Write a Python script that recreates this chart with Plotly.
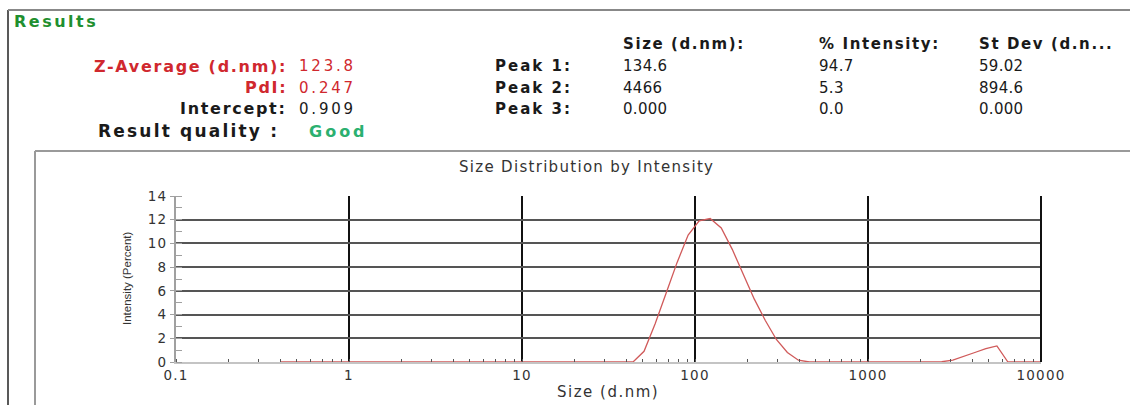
import plotly.graph_objects as go

# ---- data ----
size_nm = [0.4, 0.4632, 0.5365, 0.6213, 0.7195, 0.8332, 0.9649, 1.117, 1.294, 1.499,
           1.736, 2.010, 2.328, 2.696, 3.122, 3.615, 4.187, 4.849, 5.615, 6.503,
           7.531, 8.721, 10.10, 11.70, 13.54, 15.69, 18.17, 21.04, 24.36, 28.21,
           32.67, 37.84, 43.82, 50.75, 58.77, 68.06, 78.82, 91.28, 105.7, 122.4,
           141.8, 164.2, 190.1, 220.2, 255.0, 295.3, 342.0, 396.1, 458.7, 531.2,
           615.1, 712.4, 825.0, 955.4, 1106, 1281, 1484, 1718, 1990, 2305,
           2669, 3091, 3580, 4145, 4801, 5560, 6439, 7456, 8635, 10000]
intensity_pct = [0, 0, 0, 0, 0, 0, 0, 0, 0, 0,
                 0, 0, 0, 0, 0, 0, 0, 0, 0, 0,
                 0, 0, 0, 0, 0, 0, 0, 0, 0, 0,
                 0, 0, 0, 0.9, 3.2, 5.8, 8.4, 10.7, 11.9, 12.1,
                 11.3, 9.5, 7.4, 5.3, 3.5, 1.9, 0.8, 0.15, 0, 0,
                 0, 0, 0, 0, 0, 0, 0, 0, 0, 0,
                 0.02, 0.15, 0.45, 0.8, 1.12, 1.35, 0, 0, 0, 0]

x_tickvals = [0.1, 1, 10, 100, 1000, 10000]
x_ticktext = ["0.1", "1", "10", "100", "1000", "10000"]
y_tickvals = [0, 2, 4, 6, 8, 10, 12, 14]
y_ticktext = ["0", "2", "4", "6", "8", "10", "12", "14"]

summary_labels = ["Z-Average (d.nm):", "PdI:", "Intercept:"]
summary_values = ["123.8", "0.247", "0.909"]
summary_colors = ["#d0282e", "#d0282e", "#1a1a1a"]
quality_label = "Result quality :"
quality_value = "Good"

peak_labels = ["Peak 1:", "Peak 2:", "Peak 3:"]
col_headers = ["Size (d.nm):", "% Intensity:", "St Dev (d.n..."]
peak_size = ["134.6", "4466", "0.000"]
peak_intensity = ["94.7", "5.3", "0.0"]
peak_stdev = ["59.02", "894.6", "0.000"]

# ---- geometry helpers (pixel -> paper) ----
W, H = 1130, 405
L, R, T, B = 176, 1041, 196, 362


def px(x):
    return (x - L) / (R - L)


def py(y):
    return (B - y) / (B - T)


def sp(text, ls):
    return f'<span style="letter-spacing:{ls}px">{text}</span>'


FONT = "DejaVu Sans"
annotations = []


def ann(text, x, y, anchor="left", size=15, color="#1a1a1a", bold=False, ls=0,
        family=FONT, angle=0):
    annotations.append(dict(
        text=sp(text, ls) if ls else text, x=px(x), y=py(y), xref="paper", yref="paper",
        xanchor=anchor, yanchor="middle", showarrow=False, textangle=angle,
        font=dict(family=family, size=size, color=color,
                  weight="bold" if bold else "normal")))


ann("Results", 12, 21, size=16, color="#1f8f2f", bold=True, ls=2.5)
rows_y = [66, 88, 109]
for lab, val, col, yy in zip(summary_labels, summary_values, summary_colors, rows_y):
    ann(lab, 289, yy, anchor="right", size=16, color=col, bold=True, ls=1.7)
    ann(val, 297, yy, size=15, color=col, ls=2.8)
ann(quality_label, 281, 131, anchor="right", size=17, bold=True, ls=2.2)
ann(quality_value, 307, 131, size=16, color="#2bb070", bold=True, ls=3)

for hdr, xx in zip(col_headers, [621, 817, 977]):
    ann(hdr, xx, 44, size=15, bold=True, ls=1.6)
for lab, s, i, d, yy in zip(peak_labels, peak_size, peak_intensity, peak_stdev, rows_y):
    ann(lab, 574, yy, anchor="right", size=15, bold=True, ls=2)
    ann(s, 621, yy, size=15, ls=0.3)
    ann(i, 817, yy, size=15, ls=0.3)
    ann(d, 977, yy, size=15, ls=0.3)

ann("Size Distribution by Intensity", 586, 167, anchor="center", size=15,
    color="#333333", ls=1.3)
ann("Size (d.nm)", 608, 392, anchor="center", size=15, color="#333333", ls=1.5)
ann("Intensity (Percent)", 127, 279, anchor="center", size=11.5, color="#333333",
    family="Liberation Sans, sans-serif", angle=-90)

shapes = [
    dict(type="line", xref="paper", yref="paper", x0=px(8), x1=px(8), y0=py(10), y1=py(405),
         line=dict(color="#222222", width=1.5)),
    dict(type="line", xref="paper", yref="paper", x0=px(8), x1=px(1130), y0=py(10), y1=py(10),
         line=dict(color="#888888", width=2)),
    dict(type="line", xref="paper", yref="paper", x0=px(35), x1=px(35), y0=py(151), y1=py(405),
         line=dict(color="#9a9a9a", width=2)),
    dict(type="line", xref="paper", yref="paper", x0=px(35), x1=px(1130), y0=py(151), y1=py(151),
         line=dict(color="#9a9a9a", width=2)),
    dict(type="line", xref="paper", yref="paper", x0=1, x1=1, y0=0, y1=1,
         line=dict(color="#111111", width=2)),
]

fig = go.Figure()
fig.add_trace(go.Scatter(x=size_nm, y=intensity_pct, mode="lines",
                         line=dict(color="#d05a5a", width=1.3), showlegend=False))

fig.update_layout(
    width=W, height=H,
    margin=dict(l=L, r=W - R, t=T, b=H - B),
    paper_bgcolor="white", plot_bgcolor="white",
    annotations=annotations, shapes=shapes,
    xaxis=dict(type="log", range=[-1, 4], tickvals=x_tickvals,
               ticktext=[sp(t, 1.2) for t in x_ticktext],
               showgrid=True, gridcolor="#111111", gridwidth=2,
               showline=True, linecolor="#c4c4c4", linewidth=2, ticks="",
               zeroline=False,
               minor=dict(ticks="inside", ticklen=3, tickcolor="#555555", dtick="D1", showgrid=False),
               tickfont=dict(family=FONT, size=13.5, color="#333333")),
    yaxis=dict(range=[0, 14], tickvals=y_tickvals,
               ticktext=[sp(t, 1.2) for t in y_ticktext],
               showgrid=True, gridcolor="#555555", gridwidth=2,
               showline=True, linecolor="#a0a0a0", linewidth=2,
               ticks="outside", ticklen=4, tickcolor="#a0a0a0", zeroline=False,
               minor=dict(ticks="inside", ticklen=6, tickcolor="#a0a0a0", dtick=1, showgrid=False),
               tickfont=dict(family=FONT, size=13.5, color="#333333")),
)

fig.write_html("out.html")
